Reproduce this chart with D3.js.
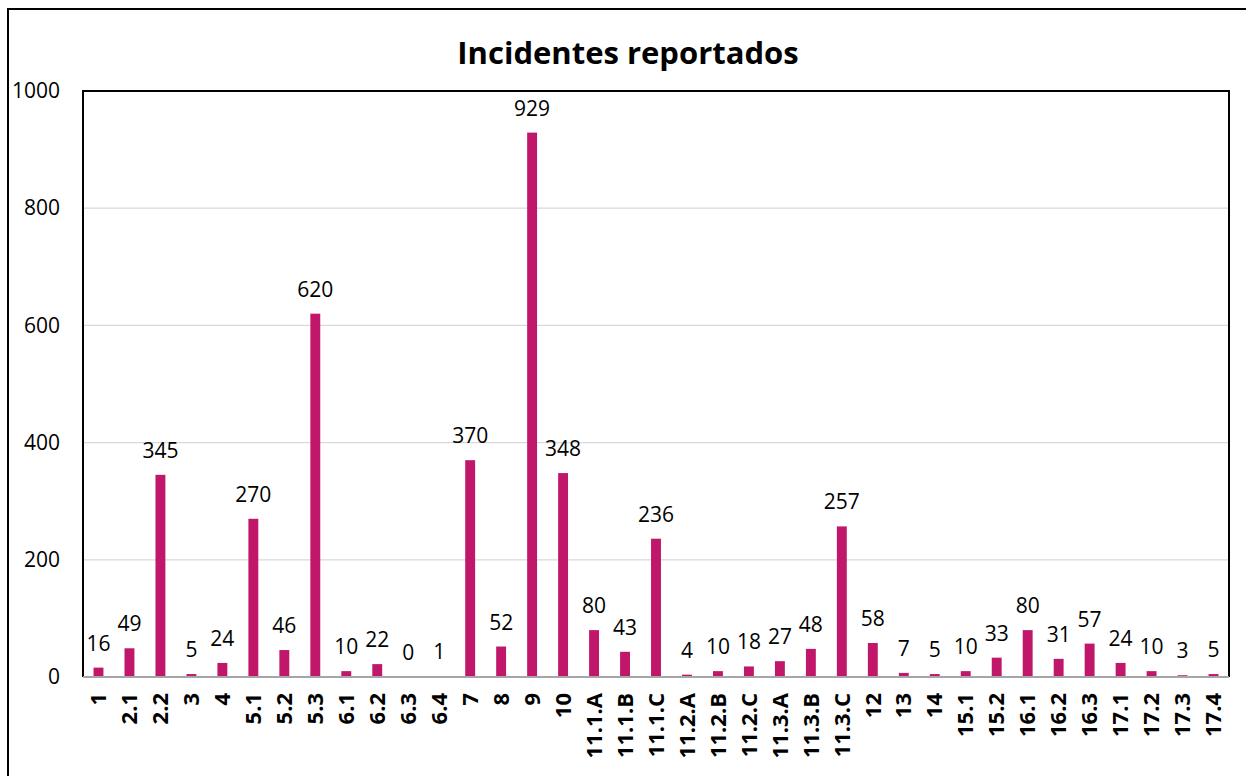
<!DOCTYPE html>
<html>
<head>
<meta charset="utf-8">
<script src="https://cdn.jsdelivr.net/npm/d3@7"></script>
<style>
  body { margin:0; background:#fff; }
  svg { display:block; font-family:"Open Sans", sans-serif; }
</style>
</head>
<body>
<svg id="chart" width="1246" height="776"></svg>
<script>
// data
const categories = ["1","2.1","2.2","3","4","5.1","5.2","5.3","6.1","6.2","6.3","6.4","7","8","9","10",
  "11.1.A","11.1.B","11.1.C","11.2.A","11.2.B","11.2.C","11.3.A","11.3.B","11.3.C",
  "12","13","14","15.1","15.2","16.1","16.2","16.3","17.1","17.2","17.3","17.4"];
const incidentes = [16,49,345,5,24,270,46,620,10,22,0,1,370,52,929,348,
  80,43,236,4,10,18,27,48,257,58,7,5,10,33,80,31,57,24,10,3,5];
const yTicks = [0,200,400,600,800,1000];
const title = "Incidentes reportados";

const svg = d3.select("#chart");
const plot = {left:83, top:91, right:1229, bottom:677};
const barColor = "#c0176a";

// outer frame (runs off the right and bottom edge)
svg.append("path")
  .attr("d","M8,790 L8,9 L1260,9")
  .attr("fill","none").attr("stroke","#000").attr("stroke-width",2);

const x = d3.scaleBand()
  .domain(categories)
  .range([plot.left, plot.right])
  .paddingInner(0.68).paddingOuter(0.34);

const y = d3.scaleLinear()
  .domain([0,1000])
  .range([plot.bottom, plot.top]);

// gridlines
svg.append("g")
  .selectAll("line")
  .data(yTicks.filter(d=>d>0 && d<1000))
  .enter().append("line")
  .attr("x1",plot.left).attr("x2",plot.right)
  .attr("y1",d=>y(d)).attr("y2",d=>y(d))
  .attr("stroke","#d9d9d9").attr("stroke-width",1.3);

// y axis labels
const yAxis = svg.append("g")
  .attr("transform","translate("+plot.left+",0)")
  .call(d3.axisLeft(y).tickValues(yTicks).tickSize(0).tickPadding(23).tickFormat(d3.format("d")));
yAxis.select(".domain").remove();
yAxis.selectAll("text").attr("font-size",21).attr("fill","#000").attr("font-family","Open Sans, sans-serif");

// bars
svg.append("g")
  .selectAll("rect")
  .data(incidentes)
  .enter().append("rect")
  .attr("x",(d,i)=>x(categories[i]))
  .attr("y",d=>y(d))
  .attr("width",x.bandwidth())
  .attr("height",d=>plot.bottom - y(d))
  .attr("fill",barColor);

// value labels
svg.append("g")
  .selectAll("text")
  .data(incidentes)
  .enter().append("text")
  .attr("x",(d,i)=>x(categories[i]) + x.bandwidth()/2)
  .attr("y",d=>y(d) - 17)
  .attr("text-anchor","middle")
  .attr("font-size",21)
  .attr("fill","#000")
  .text(d=>d);

// x axis
const xAxis = svg.append("g")
  .attr("transform","translate(0,"+plot.bottom+")")
  .call(d3.axisBottom(x).tickSize(0).tickPadding(0));
xAxis.select(".domain").remove();
xAxis.selectAll("text")
  .attr("font-size",22).attr("font-weight","bold").attr("fill","#000")
  .attr("font-family","Open Sans, sans-serif")
  .attr("text-anchor","end")
  .attr("dy","0.35em")
  .attr("transform","translate(0,16) rotate(-90)")
  .attr("x",0).attr("y",0);

// plot border: black top/left/right, grey baseline
svg.append("path")
  .attr("d","M"+plot.left+","+plot.bottom+" L"+plot.left+","+plot.top+" L"+plot.right+","+plot.top+" L"+plot.right+","+plot.bottom)
  .attr("fill","none").attr("stroke","#000").attr("stroke-width",2);
svg.append("line")
  .attr("x1",plot.left).attr("x2",plot.right)
  .attr("y1",plot.bottom).attr("y2",plot.bottom)
  .attr("stroke","#a6a6a6").attr("stroke-width",2);

// title
svg.append("text")
  .attr("x",628).attr("y",64)
  .attr("text-anchor","middle")
  .attr("font-size",31).attr("font-weight","bold")
  .attr("fill","#000")
  .text(title);
</script>
</body>
</html>
